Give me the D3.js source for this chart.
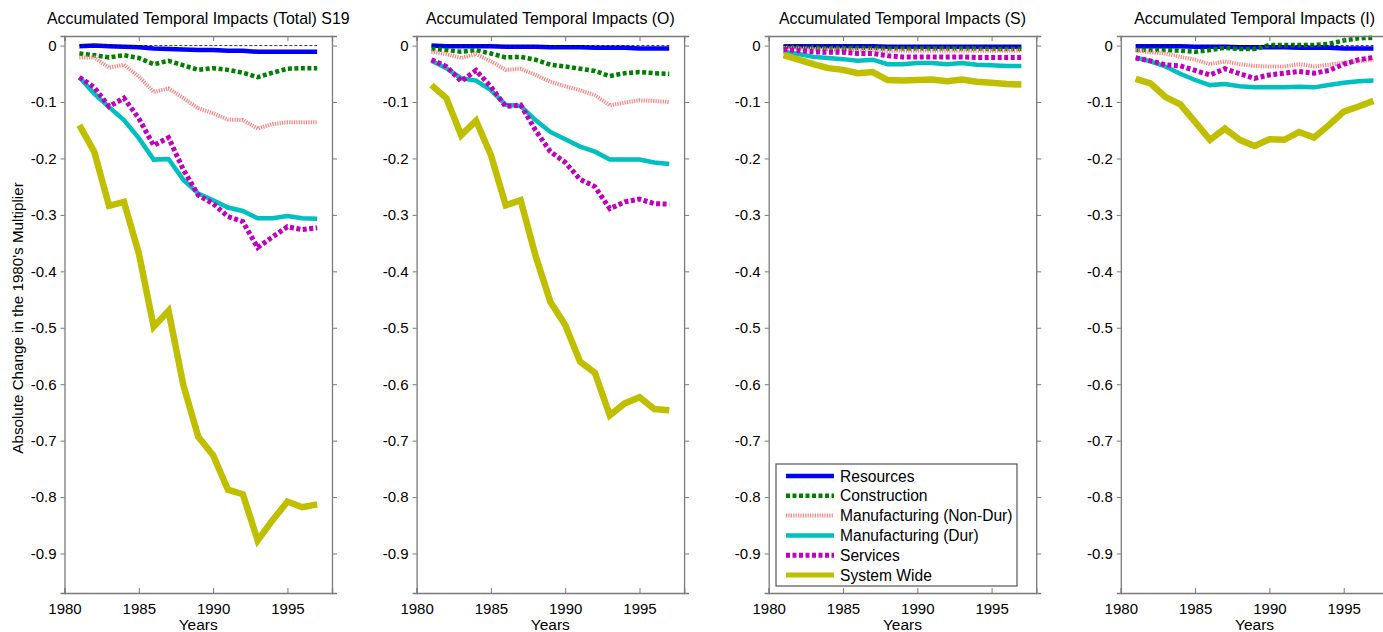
<!DOCTYPE html>
<html>
<head>
<meta charset="utf-8">
<script src="https://cdn.jsdelivr.net/npm/d3@7"></script>
<style>
  body { margin: 0; background: #fff; }
  svg { display: block; font-family: "Liberation Sans", Arial, sans-serif; }
</style>
</head>
<body>
<div id="chart"></div>
<script>
var years = [1981, 1982, 1983, 1984, 1985, 1986, 1987, 1988, 1989, 1990, 1991, 1992, 1993, 1994, 1995, 1996, 1997];
var xTicks = [1980, 1985, 1990, 1995];
var yTicks = [0, -0.1, -0.2, -0.3, -0.4, -0.5, -0.6, -0.7, -0.8, -0.9];
var seriesNames = ["Resources", "Construction", "Manufacturing (Non-Dur)", "Manufacturing (Dur)", "Services", "System Wide"];
var panelTitles = ["Accumulated Temporal Impacts (Total) S19", "Accumulated Temporal Impacts (O)", "Accumulated Temporal Impacts (S)", "Accumulated Temporal Impacts (I)"];

// Total
var total_resources = [-0.001, 0.000, -0.001, -0.002, -0.003, -0.005, -0.006, -0.007, -0.008, -0.008, -0.009, -0.009, -0.011, -0.011, -0.011, -0.011, -0.011];
var total_construction = [-0.014, -0.017, -0.021, -0.017, -0.022, -0.033, -0.027, -0.035, -0.043, -0.040, -0.043, -0.048, -0.056, -0.048, -0.041, -0.040, -0.040];
var total_nondur = [-0.021, -0.021, -0.039, -0.034, -0.055, -0.082, -0.076, -0.093, -0.111, -0.120, -0.131, -0.132, -0.147, -0.139, -0.136, -0.136, -0.136];
var total_dur = [-0.056, -0.085, -0.109, -0.132, -0.164, -0.202, -0.201, -0.238, -0.262, -0.274, -0.287, -0.293, -0.306, -0.306, -0.302, -0.306, -0.307];
var total_services = [-0.056, -0.074, -0.108, -0.093, -0.129, -0.177, -0.163, -0.220, -0.265, -0.280, -0.303, -0.312, -0.358, -0.339, -0.321, -0.326, -0.323];
var total_system = [-0.141, -0.188, -0.284, -0.277, -0.368, -0.498, -0.470, -0.602, -0.693, -0.726, -0.787, -0.795, -0.877, -0.841, -0.808, -0.818, -0.813];

// O
var o_resources = [0.000, -0.001, -0.001, -0.001, -0.001, -0.002, -0.002, -0.002, -0.003, -0.003, -0.003, -0.004, -0.004, -0.004, -0.005, -0.005, -0.005];
var o_construction = [-0.006, -0.008, -0.011, -0.008, -0.014, -0.021, -0.020, -0.025, -0.034, -0.037, -0.041, -0.045, -0.054, -0.049, -0.047, -0.049, -0.050];
var o_nondur = [-0.011, -0.015, -0.022, -0.015, -0.028, -0.043, -0.041, -0.052, -0.064, -0.072, -0.079, -0.088, -0.106, -0.101, -0.097, -0.098, -0.100];
var o_dur = [-0.027, -0.040, -0.058, -0.062, -0.079, -0.105, -0.107, -0.132, -0.153, -0.166, -0.179, -0.188, -0.202, -0.202, -0.202, -0.207, -0.210];
var o_services = [-0.025, -0.037, -0.063, -0.044, -0.073, -0.108, -0.105, -0.150, -0.188, -0.207, -0.237, -0.250, -0.289, -0.277, -0.272, -0.280, -0.281];
var o_system = [-0.070, -0.093, -0.159, -0.133, -0.194, -0.283, -0.274, -0.372, -0.454, -0.495, -0.560, -0.580, -0.655, -0.634, -0.623, -0.644, -0.646];

// S
var s_resources = [-0.001, -0.001, -0.001, -0.001, -0.001, -0.001, -0.001, -0.002, -0.002, -0.002, -0.002, -0.002, -0.002, -0.002, -0.002, -0.002, -0.002];
var s_construction = [-0.002, -0.003, -0.003, -0.004, -0.004, -0.004, -0.004, -0.005, -0.005, -0.005, -0.005, -0.005, -0.005, -0.005, -0.006, -0.006, -0.006];
var s_nondur = [-0.004, -0.005, -0.006, -0.007, -0.007, -0.008, -0.008, -0.009, -0.009, -0.009, -0.009, -0.009, -0.009, -0.009, -0.009, -0.009, -0.009];
var s_dur = [-0.011, -0.015, -0.020, -0.022, -0.024, -0.027, -0.025, -0.033, -0.033, -0.031, -0.031, -0.033, -0.031, -0.034, -0.035, -0.036, -0.036];
var s_services = [-0.007, -0.009, -0.011, -0.012, -0.012, -0.014, -0.014, -0.018, -0.020, -0.020, -0.020, -0.020, -0.020, -0.021, -0.021, -0.021, -0.021];
var s_system = [-0.017, -0.025, -0.033, -0.040, -0.043, -0.049, -0.047, -0.061, -0.062, -0.061, -0.060, -0.063, -0.060, -0.064, -0.066, -0.068, -0.069];

// I
var i_resources = [-0.001, -0.001, -0.001, -0.001, -0.002, -0.002, -0.002, -0.003, -0.003, -0.003, -0.003, -0.004, -0.004, -0.004, -0.005, -0.005, -0.005];
var i_construction = [-0.008, -0.008, -0.008, -0.009, -0.011, -0.008, -0.004, -0.006, -0.006, 0.001, 0.001, 0.001, 0.001, 0.003, 0.009, 0.013, 0.014];
var i_nondur = [-0.008, -0.012, -0.014, -0.020, -0.025, -0.033, -0.028, -0.033, -0.036, -0.037, -0.037, -0.033, -0.037, -0.034, -0.030, -0.028, -0.025];
var i_dur = [-0.021, -0.028, -0.037, -0.050, -0.061, -0.070, -0.068, -0.072, -0.074, -0.074, -0.074, -0.073, -0.074, -0.070, -0.066, -0.063, -0.062];
var i_services = [-0.022, -0.027, -0.034, -0.036, -0.044, -0.052, -0.041, -0.050, -0.058, -0.052, -0.049, -0.046, -0.049, -0.044, -0.033, -0.025, -0.021];
var i_system = [-0.059, -0.067, -0.091, -0.104, -0.135, -0.167, -0.147, -0.167, -0.178, -0.166, -0.167, -0.153, -0.163, -0.141, -0.117, -0.108, -0.098];

var panels = [
    [total_resources, total_construction, total_nondur, total_dur, total_services, total_system],
    [o_resources, o_construction, o_nondur, o_dur, o_services, o_system],
    [s_resources, s_construction, s_nondur, s_dur, s_services, s_system],
    [i_resources, i_construction, i_nondur, i_dur, i_services, i_system]
];

// line look per series (MATLAB-ish)
var styles = [
    { color: "#0000ff", width: 4.5, dash: null },
    { color: "#008000", width: 4.5, dash: "4,2.5" },
    { color: "#ff8080", width: 4, dash: "1.2,1.2" },
    { color: "#00bfbf", width: 4.5, dash: null },
    { color: "#bf00bf", width: 5, dash: "4,2.5" },
    { color: "#bfbf00", width: 6.5, dash: null }
];

var width = 1383;
var height = 632;
var plotLeft = 64.5;
var plotStep = 352.1;
var plotW = 267.5;
var plotTop = 36;
var plotBottom = 593;
var axisColor = "#7a7a7a";

var svg = d3.select("#chart").append("svg")
    .attr("width", width)
    .attr("height", height);

var y = d3.scaleLinear().domain([-0.97, 0.017]).range([plotBottom, plotTop]);

panels.forEach(function(panelData, p) {
    var x0 = plotLeft + p * plotStep;
    var x = d3.scaleLinear().domain([1980, 1998]).range([x0, x0 + plotW]);
    var g = svg.append("g");

    // series lines
    var line = d3.line()
        .x(function(d, i) { return x(years[i]); })
        .y(function(d) { return y(d); });

    panelData.forEach(function(vals, s) {
        g.append("path")
            .datum(vals)
            .attr("d", line)
            .attr("fill", "none")
            .attr("stroke", styles[s].color)
            .attr("stroke-width", styles[s].width)
            .attr("stroke-dasharray", styles[s].dash)
            .attr("stroke-linejoin", "miter");
    });

    // zero reference line
    g.append("line")
        .attr("x1", x(1981)).attr("x2", x(1997))
        .attr("y1", y(0)).attr("y2", y(0))
        .attr("stroke", "#000")
        .attr("stroke-width", 0.8)
        .attr("stroke-dasharray", "3,2");

    // axes
    var left = g.append("g")
        .attr("transform", "translate(" + x0 + ",0)")
        .call(d3.axisLeft(y).tickValues(yTicks).tickSize(4).tickPadding(4).tickFormat(d3.format("")));
    var right = g.append("g")
        .attr("transform", "translate(" + (x0 + plotW) + ",0)")
        .call(d3.axisLeft(y).tickValues(yTicks).tickSize(-5).tickFormat(""));
    var bottom = g.append("g")
        .attr("transform", "translate(0," + plotBottom + ")")
        .call(d3.axisBottom(x).tickValues(xTicks).tickSize(-5).tickPadding(10).tickFormat(d3.format("d")));
    var top = g.append("g")
        .attr("transform", "translate(0," + plotTop + ")")
        .call(d3.axisTop(x).tickValues(xTicks).tickSize(-5).tickFormat(""));

    [left, right, bottom, top].forEach(function(a) {
        a.select(".domain").attr("stroke", axisColor).attr("stroke-width", 1.3);
        a.selectAll(".tick line").attr("stroke", axisColor).attr("stroke-width", 1);
        a.selectAll("text").attr("fill", "#000").style("font-size", "15px")
            .style("font-family", "'Liberation Sans', Arial, sans-serif");
    });
    left.selectAll("text").text(function(d) { return d === 0 ? "0" : d.toFixed(1); });

    // title and x label
    g.append("text")
        .attr("x", x0 + plotW / 2)
        .attr("y", 24)
        .attr("text-anchor", "middle")
        .style("font-size", "15.9px")
        .text(panelTitles[p]);

    g.append("text")
        .attr("x", x0 + plotW / 2)
        .attr("y", 630)
        .attr("text-anchor", "middle")
        .style("font-size", "15.5px")
        .text("Years");

    // legend sits in the S panel
    if (p === 2) {
        var lg = g.append("g");
        lg.append("rect")
            .attr("x", 776).attr("y", 464)
            .attr("width", 241).attr("height", 122)
            .attr("fill", "#fff")
            .attr("stroke", "#555")
            .attr("stroke-width", 1.2);
        seriesNames.forEach(function(name, s) {
            var ly = 476 + s * 19.8;
            lg.append("line")
                .attr("x1", 786).attr("x2", 834)
                .attr("y1", ly).attr("y2", ly)
                .attr("stroke", styles[s].color)
                .attr("stroke-width", Math.min(styles[s].width, 5))
                .attr("stroke-dasharray", styles[s].dash);
            lg.append("text")
                .attr("x", 840)
                .attr("y", ly + 5.5)
                .style("font-size", "15.6px")
                .text(name);
        });
    }
});

// shared y label
svg.append("text")
    .attr("transform", "translate(23," + 318 + ") rotate(-90)")
    .attr("text-anchor", "middle")
    .style("font-size", "15.2px")
    .text("Absolute Change in the 1980's Multiplier");
</script>
</body>
</html>
